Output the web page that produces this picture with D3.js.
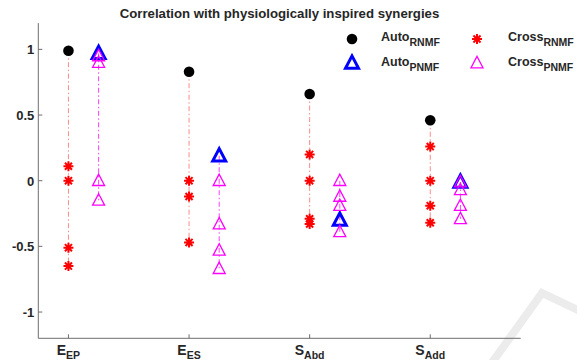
<!DOCTYPE html>
<html>
<head>
<meta charset="utf-8">
<script src="https://cdn.jsdelivr.net/npm/d3@7"></script>
<style>
  body { margin: 0; background: #fff; }
  text { font-family: "Liberation Sans", Arial, sans-serif; font-weight: bold; fill: #262626; }
</style>
</head>
<body>
<div class="chart"></div>
<script>
// chart size
let w = 577
let h = 360

// data
const tickMain = ["E", "E", "S", "S"];
const tickSub = ["EP", "ES", "Abd", "Add"];
const yTicks = [-1, -0.5, 0, 0.5, 1];
const autoRNMF = [0.99, 0.83, 0.66, 0.46];
const crossRNMF = [
  [0.11, 0, -0.51, -0.65],
  [0, -0.12, -0.47],
  [0.2, 0, -0.29, -0.33],
  [0.26, 0, -0.19, -0.32]
];
const autoPNMF = [0.97, 0.19, -0.30, -0.01];
const crossPNMF = [
  [0.95, 0.9, 0, -0.15],
  [0, -0.33, -0.53, -0.67],
  [0, -0.12, -0.19, -0.39],
  [-0.01, -0.07, -0.19, -0.29]
];
const pnmfShift = 0.25;

let svg = d3.select(".chart")
  .append("svg")
  .attr("width", w)
  .attr("height", h);

svg.append("rect").attr("width", w).attr("height", h).attr("fill", "#fff");

// faint watermark stroke in the corner
svg.append("polyline")
  .attr("points", "491,364 542,293 582,312")
  .attr("fill", "none")
  .attr("stroke", "#ececec")
  .attr("stroke-width", 8);

let x = d3.scaleLinear().domain([0.75, 4.75]).range([38.3, 520.7]);
let y = d3.scaleLinear().domain([-1.2, 1.2]).range([338.3, 23.1]);

const axisColor = "#6e6e6e";

// axes (left + bottom only, ticks pointing inward)
svg.append("line").attr("x1", x(0.75)).attr("x2", x(4.75))
  .attr("y1", y(-1.2)).attr("y2", y(-1.2))
  .attr("stroke", axisColor).attr("stroke-width", 1);
svg.append("line").attr("x1", x(0.75)).attr("x2", x(0.75))
  .attr("y1", y(-1.2)).attr("y2", y(1.2))
  .attr("stroke", axisColor).attr("stroke-width", 1);

svg.selectAll(".ytick").data(yTicks).enter().append("line")
  .attr("x1", x(0.75)).attr("x2", x(0.75) + 4)
  .attr("y1", d => y(d)).attr("y2", d => y(d))
  .attr("stroke", axisColor);
svg.selectAll(".ylab").data(yTicks).enter().append("text")
  .attr("x", x(0.75) - 4)
  .attr("y", d => y(d) + 5)
  .attr("text-anchor", "end")
  .attr("font-size", 13)
  .text(d => d);

svg.selectAll(".xtick").data(tickMain).enter().append("line")
  .attr("x1", (d, i) => x(i + 1)).attr("x2", (d, i) => x(i + 1))
  .attr("y1", y(-1.2)).attr("y2", y(-1.2) - 4)
  .attr("stroke", axisColor);
let xl = svg.selectAll(".xlab").data(tickMain).enter().append("text")
  .attr("x", (d, i) => x(i + 1))
  .attr("y", 354.5)
  .attr("text-anchor", "middle")
  .attr("font-size", 14);
xl.append("tspan").text(d => d);
xl.append("tspan").attr("dy", 4.5).attr("font-size", 10.5).text((d, i) => tickSub[i]);

// title
svg.append("text")
  .attr("x", (x(0.75) + x(4.75)) / 2)
  .attr("y", 18)
  .attr("text-anchor", "middle")
  .attr("font-size", 13.2)
  .attr("fill", "#000")
  .text("Correlation with physiologically inspired synergies");

// marker helpers
function triangle(g, cx, cy, s, color, sw) {
  let pts = [[cx, cy - s * 0.55], [cx - s / 2, cy + s * 0.4], [cx + s / 2, cy + s * 0.4]];
  g.append("polygon").attr("points", pts.map(p => p.join(",")).join(" "))
    .attr("fill", "none").attr("stroke", color).attr("stroke-width", sw)
    .attr("stroke-linejoin", "miter");
}
function star(g, cx, cy, r) {
  let d = "";
  [0, 45, 90, 135].forEach(a => {
    let t = a * Math.PI / 180;
    d += "M" + (cx - r * Math.cos(t)) + "," + (cy - r * Math.sin(t)) +
         "L" + (cx + r * Math.cos(t)) + "," + (cy + r * Math.sin(t));
  });
  g.append("path").attr("d", d).attr("stroke", "#ff0000").attr("stroke-width", 2);
}

let plot = svg.append("g");

tickMain.forEach((t, i) => {
  let xr = x(i + 1), xp = x(i + 1 + pnmfShift);
  let rAll = [autoRNMF[i]].concat(crossRNMF[i]);
  let pAll = [autoPNMF[i]].concat(crossPNMF[i]);
  // dash-dot connectors
  plot.append("line").attr("x1", xr).attr("x2", xr)
    .attr("y1", y(d3.max(rAll))).attr("y2", y(d3.min(rAll)))
    .attr("stroke", "#ff8a8a").attr("stroke-width", 1)
    .attr("stroke-dasharray", "5,2.5,1.5,2.5");
  plot.append("line").attr("x1", xp).attr("x2", xp)
    .attr("y1", y(d3.max(pAll))).attr("y2", y(d3.min(pAll)))
    .attr("stroke", "#ff40ff").attr("stroke-width", 1)
    .attr("stroke-dasharray", "5,2.5,1.5,2.5");

  plot.append("circle").attr("cx", xr).attr("cy", y(autoRNMF[i])).attr("r", 5.3).attr("fill", "#000");
  crossRNMF[i].forEach(v => star(plot, xr, y(v), 5));
  triangle(plot, xp, y(autoPNMF[i]), 13, "#0000ff", 3);
  crossPNMF[i].forEach(v => triangle(plot, xp, y(v), 12, "#ff00ff", 1.3));
});

// legend
let lg = svg.append("g");
lg.append("circle").attr("cx", 352).attr("cy", 39).attr("r", 5.3).attr("fill", "#000");
triangle(lg, 352, 63, 13, "#0000ff", 3);
star(lg, 477, 39, 5);
triangle(lg, 477, 63, 12, "#ff00ff", 1.3);

const legMain = ["Auto", "Auto", "Cross", "Cross"];
const legSub = ["RNMF", "PNMF", "RNMF", "PNMF"];
const legPos = [[381, 41], [381, 66], [508, 41], [508, 66]];
legMain.forEach((m, i) => {
  let tx = lg.append("text").attr("x", legPos[i][0]).attr("y", legPos[i][1])
    .attr("font-size", 12.5).attr("fill", "#000");
  tx.append("tspan").text(m);
  tx.append("tspan").attr("dy", 5).attr("font-size", 10.5).text(legSub[i]);
});
</script>
</body>
</html>
